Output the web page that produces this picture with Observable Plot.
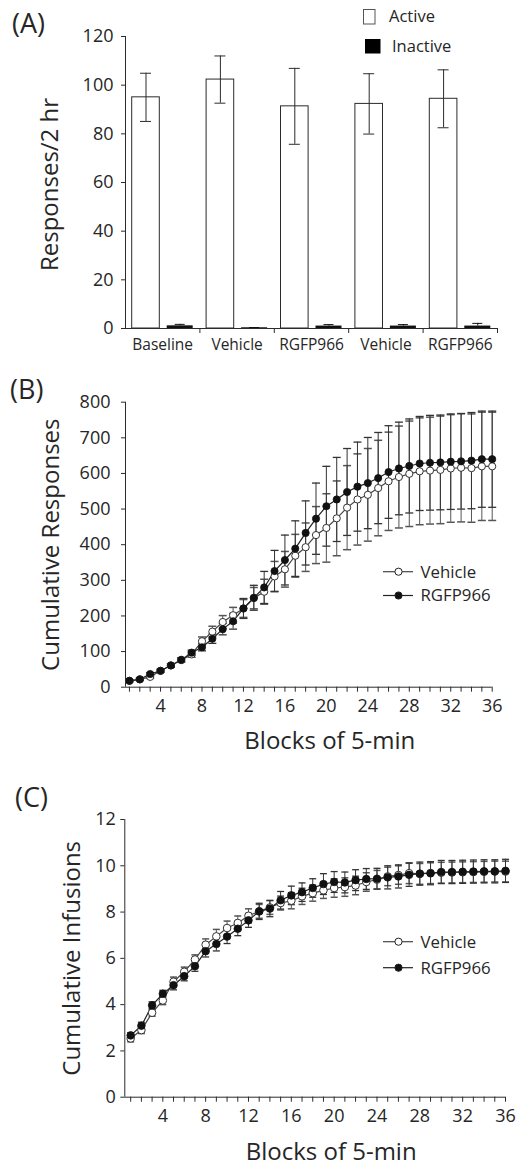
<!DOCTYPE html>
<html><head><meta charset="utf-8">
<script src="https://cdn.jsdelivr.net/npm/d3@7"></script>
<script src="https://cdn.jsdelivr.net/npm/@observablehq/plot@0.6"></script>
<style>
body{margin:0;background:#fff;}
#wrap{position:relative;width:516px;height:1167px;overflow:hidden;font-family:"Open Sans",sans-serif;}
.panel{position:absolute;left:0;}
#overlay{position:absolute;left:0;top:0;pointer-events:none;}
</style></head><body><div id="wrap"></div>
<script>
// ---------- Panel A data ----------
const groups = ["Baseline", "Vehicle", "RGFP966", "Vehicle", "RGFP966"];
const activeMean = [95.0, 102.3, 91.3, 92.3, 94.4];
const activeSem = [9.9, 9.7, 15.6, 12.4, 11.9];
const inactiveMean = [1.1, 0.3, 1.0, 1.0, 1.0];
const inactiveSem = [0.6, 0.1, 0.6, 0.6, 1.1];
const yTicksA = [0, 20, 40, 60, 80, 100, 120];

// ---------- Panels B & C data ----------
const blocks = [1,2,3,4,5,6,7,8,9,10,11,12,13,14,15,16,17,18,19,20,21,22,23,24,25,26,27,28,29,30,31,32,33,34,35,36];
const xTickLabels = [4, 8, 12, 16, 20, 24, 28, 32, 36];
const yTicksB = [0, 100, 200, 300, 400, 500, 600, 700, 800];
const yTicksC = [0, 2, 4, 6, 8, 10, 12];

const vehResp = [18,22,29,46,61,76,92,129,156,183,202,221,250,268,311,331,369,393,427,447,474,504,527,540,559,578,590,599,606,608,610,614,616,615,620,620];
const vehRespSem = [3,3,4,4,5,6,8,12,15,18,22,25,30,35,42,50,60,68,80,96,105,118,128,130,134,138,143,148,150,150,151,151,152,152,152,152];
const rgfpResp = [18,22,37,46,61,77,97,112,136,163,185,221,251,280,326,357,389,433,473,508,527,548,563,573,587,604,614,621,628,630,631,633,634,636,640,640];
const rgfpRespSem = [3,3,4,4,5,6,7,10,13,16,22,28,35,45,58,70,78,90,100,112,118,122,125,128,128,130,130,132,132,133,133,134,134,135,135,135];

const vehInf = [2.54,2.90,3.65,4.18,4.99,5.42,5.95,6.59,6.95,7.31,7.53,7.84,8.03,8.20,8.39,8.49,8.68,8.82,8.94,9.04,9.08,9.15,9.30,9.40,9.54,9.60,9.68,9.65,9.68,9.70,9.71,9.72,9.73,9.74,9.75,9.75];
const vehInfSem = [0.15,0.15,0.15,0.18,0.2,0.2,0.2,0.25,0.3,0.3,0.3,0.3,0.3,0.3,0.3,0.35,0.35,0.35,0.35,0.4,0.4,0.4,0.4,0.4,0.4,0.4,0.45,0.45,0.45,0.45,0.45,0.45,0.45,0.45,0.45,0.45];
const rgfpInf = [2.67,3.09,3.97,4.47,4.84,5.23,5.66,6.31,6.62,6.94,7.28,7.64,8.03,8.15,8.51,8.72,8.86,9.04,9.21,9.30,9.28,9.38,9.43,9.44,9.50,9.54,9.61,9.66,9.68,9.73,9.73,9.74,9.75,9.76,9.76,9.78];
const rgfpInfSem = [0.12,0.15,0.15,0.15,0.2,0.2,0.22,0.25,0.3,0.3,0.3,0.3,0.35,0.35,0.38,0.4,0.4,0.4,0.45,0.45,0.45,0.45,0.45,0.45,0.5,0.5,0.5,0.5,0.5,0.5,0.5,0.5,0.5,0.5,0.5,0.5];

const wrap = document.getElementById("wrap");
const INK = "#2b2b2b";
const baseStyle = {fontFamily: "Open Sans, sans-serif", fontSize: "18px", color: "#262626", background: "transparent", overflow: "visible"};

function place(svg, top) {
  const d = document.createElement("div");
  d.className = "panel";
  d.style.top = top + "px";
  d.appendChild(svg);
  wrap.appendChild(d);
}

// horizontal cap symbol for error bars
const cap = {draw(ctx, size) { const r = Math.sqrt(size / Math.PI); ctx.moveTo(-r, 0); ctx.lineTo(r, 0); }};

function yTitleMark(t, dx, dy = 0) {
  return Plot.text([t], {text: d => d, frameAnchor: "left", textAnchor: "middle", lineAnchor: "middle",
    rotate: -90, dx, dy, fontSize: 24, fill: "#262626"});
}

// ---------- Panel A ----------
{
  const W = 516, ml = 125, mr = 19;
  const step = (W - ml - mr) / groups.length;
  const rows = groups.map((g, i) => ({i, g, am: activeMean[i], ae: activeSem[i], im: inactiveMean[i], ie: inactiveSem[i]}));
  const aL = 6.7, aR = 40.1, iL = 41.7, iR = 6.7;
  const aC = (aL + step - aR) / 2, iC = (iL + step - iR) / 2;
  const capA = 5.5, capI = 5;
  const svg = Plot.plot({
    width: W, height: 365, marginTop: 36, marginBottom: 37, marginLeft: ml, marginRight: mr,
    style: baseStyle,
    x: {type: "band", domain: groups.map((g, i) => i), padding: 0, round: false, label: null},
    y: {domain: [0, 120], label: null},
    marks: [
      Plot.barY(rows, {x: "i", y: "am", fill: "white", stroke: INK, strokeWidth: 1, insetLeft: aL, insetRight: aR}),
      Plot.barY(rows, {x: "i", y: "im", fill: "#111", insetLeft: iL, insetRight: iR}),
      Plot.ruleX(rows, {x: "i", y1: d => d.am - d.ae, y2: d => d.am + d.ae, dx: aC - step / 2, stroke: INK}),
      Plot.tickY(rows, {x: "i", y: d => d.am + d.ae, insetLeft: aC - capA, insetRight: step - aC - capA, stroke: INK}),
      Plot.tickY(rows, {x: "i", y: d => d.am - d.ae, insetLeft: aC - capA, insetRight: step - aC - capA, stroke: INK}),
      Plot.ruleX(rows, {x: "i", y1: d => d.im, y2: d => d.im + d.ie, dx: iC - step / 2, stroke: "#111"}),
      Plot.tickY(rows, {x: "i", y: d => d.im + d.ie, insetLeft: iC - capI, insetRight: step - iC - capI, stroke: "#111"}),
      Plot.ruleY([0], {stroke: INK}),
      Plot.ruleX([0], {dx: -step / 2, stroke: INK}),
      Plot.axisY({ticks: yTicksA, tickSize: 4, tickPadding: 8, label: null, stroke: INK}),
      Plot.axisX({tickSize: 0, tickPadding: 10, tickFormat: i => groups[i], fontSize: 15.5, fontWeight: 500, label: null}),
      Plot.axisX({tickSize: 5, dx: step / 2, tickFormat: () => "", label: null, stroke: INK}),
      yTitleMark("Responses/2 hr", -75, 2)
    ]
  });
  place(svg, 0);
}

function cumulative(top, height, mt, mb, ml, mr, xDom, yDom, yTicks, tickPad, veh, vehSem, rg, rgSem, capR, dotR, yTitle, yTitleDx, xTitleDx, xTitleDy) {
  const rows = blocks.map((b, k) => ({b, v: veh[k], ve: vehSem[k], r: rg[k], re: rgSem[k]}));
  const svg = Plot.plot({
    width: 516, height, marginTop: mt, marginBottom: mb, marginLeft: ml, marginRight: mr,
    style: baseStyle,
    x: {domain: xDom, label: null},
    y: {domain: yDom, label: null},
    marks: [
      Plot.ruleX([xDom[0]], {stroke: INK}),
      Plot.ruleY([0], {stroke: INK}),
      Plot.axisY({ticks: yTicks, tickSize: 4, tickPadding: tickPad, label: null, stroke: INK}),
      Plot.axisX({ticks: blocks, tickSize: 5, tickFormat: () => "", label: null, stroke: INK}),
      Plot.axisX({ticks: xTickLabels, tickSize: 0, tickPadding: 11.6, label: null}),
      // Vehicle error bars
      Plot.ruleX(rows, {x: "b", y1: d => d.v - d.ve, y2: d => d.v + d.ve, stroke: "#555"}),
      Plot.dot(rows, {x: "b", y: d => d.v + d.ve, symbol: cap, r: capR, stroke: "#555", fill: "none"}),
      Plot.dot(rows, {x: "b", y: d => d.v - d.ve, symbol: cap, r: capR, stroke: "#555", fill: "none"}),
      // RGFP error bars
      Plot.ruleX(rows, {x: "b", y1: d => d.r - d.re, y2: d => d.r + d.re, stroke: "#333"}),
      Plot.dot(rows, {x: "b", y: d => d.r + d.re, symbol: cap, r: capR, stroke: "#333", fill: "none", strokeWidth: 1.3}),
      Plot.dot(rows, {x: "b", y: d => d.r - d.re, symbol: cap, r: capR, stroke: "#333", fill: "none", strokeWidth: 1.3}),
      // lines
      Plot.line(rows, {x: "b", y: "v", stroke: "#444", strokeWidth: 1.2}),
      Plot.line(rows, {x: "b", y: "r", stroke: "#222", strokeWidth: 1.2}),
      // points
      Plot.dot(rows, {x: "b", y: "v", r: dotR, fill: "white", stroke: "#333", strokeWidth: 1}),
      Plot.dot(rows, {x: "b", y: "r", r: dotR, fill: "#111", stroke: "#111", strokeWidth: 0.8}),
      // titles
      yTitleMark(yTitle, yTitleDx),
      Plot.text(["Blocks of 5-min"], {text: d => d, frameAnchor: "bottom", textAnchor: "middle", lineAnchor: "middle",
        dx: xTitleDx, dy: xTitleDy, fontSize: 24, fill: "#262626"})
    ]
  });
  place(svg, top);
}

// ---------- Panel B ----------
cumulative(365, 400, 36.7, 78.3, 125, 24.3, [0.62, 36], [0, 800], yTicksB, 11,
  vehResp, vehRespSem, rgfpResp, rgfpRespSem, 4, 3.6, "Cumulative Responses", -74, 21, 54);

// ---------- Panel C ----------
cumulative(765, 402, 54, 70.3, 124.3, 11, [0.45, 36], [0, 12], yTicksC, 5,
  vehInf, vehInfSem, rgfpInf, rgfpInfSem, 3.5, 3.8, "Cumulative Infusions", -52, 16, 55);

// ---------- Overlay: panel letters and legends ----------
{
  const svg = d3.create("svg").attr("id", "overlay").attr("width", 516).attr("height", 1167)
    .attr("font-family", "Open Sans, sans-serif").attr("fill", "#262626");
  // panel letters
  [["(A)", 12, 33], ["(B)", 10, 398.5], ["(C)", 15, 806.5]].forEach(([t, x, y]) =>
    svg.append("text").attr("x", x).attr("y", y).attr("font-size", 27).text(t));
  // legend A
  svg.append("rect").attr("x", 363.5).attr("y", 9.5).attr("width", 11.5).attr("height", 14.5)
    .attr("fill", "white").attr("stroke", "#555").attr("stroke-width", 1);
  svg.append("text").attr("x", 389).attr("y", 16.5).attr("dy", "0.35em").attr("font-size", 16.5).text("Active");
  svg.append("rect").attr("x", 365).attr("y", 39).attr("width", 15.5).attr("height", 14.5).attr("fill", "#000");
  svg.append("text").attr("x", 392).attr("y", 46).attr("dy", "0.35em").attr("font-size", 16.5).text("Inactive");
  // legends B & C
  const series = [["Vehicle", "white", "#444"], ["RGFP966", "#111", "#222"]];
  [[571.7, 595.5], [941.7, 967.7]].forEach(ys => {
    ys.forEach((y, k) => {
      const [name, fill, line] = series[k];
      svg.append("line").attr("x1", 383).attr("x2", 413).attr("y1", y).attr("y2", y).attr("stroke", line).attr("stroke-width", 1.2);
      svg.append("circle").attr("cx", 398.5).attr("cy", y).attr("r", 3.6).attr("fill", fill).attr("stroke", "#222");
      svg.append("text").attr("x", 420.5).attr("y", y).attr("dy", "0.35em").attr("font-size", 16.8).text(name);
    });
  });
  wrap.appendChild(svg.node());
}
</script></body></html>
